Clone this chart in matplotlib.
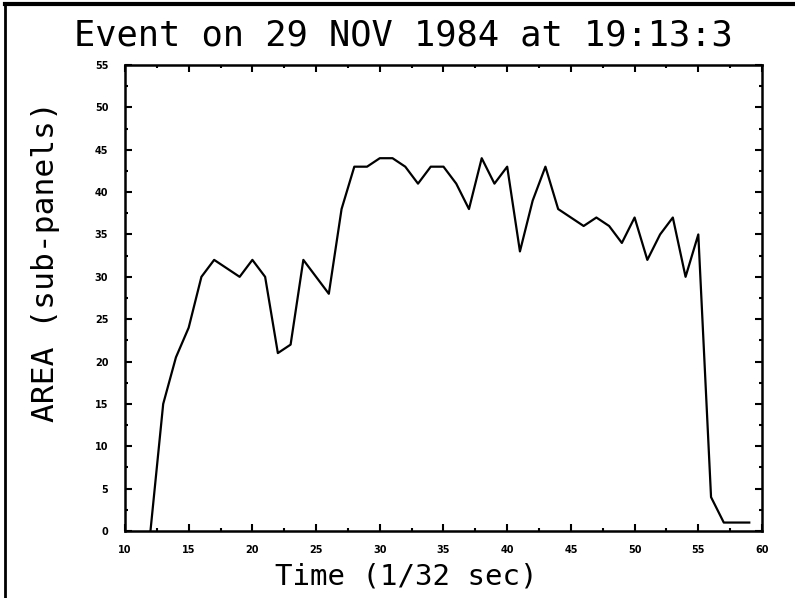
import numpy as np
import matplotlib.pyplot as plt
from matplotlib.ticker import MultipleLocator
from matplotlib.lines import Line2D

# Time samples (1/32 sec) and area in sub-panels
time = list(range(12, 60))
area = [0, 15, 20.5, 24, 30, 32, 31, 30, 32, 30,
        21, 22, 32, 30, 28, 38, 43, 43, 44, 44,
        43, 41, 43, 43, 41, 38, 44, 41, 43, 33,
        39, 43, 38, 37, 36, 37, 36, 34, 37, 32,
        35, 37, 30, 35, 4, 1, 1, 1]

title = "Event on 29 NOV 1984 at 19:13:3"
xlabel = "Time (1/32 sec)"
ylabel = "AREA (sub-panels)"

fig = plt.figure(figsize=(7.95, 5.98), dpi=100)
ax = fig.add_axes([0.1572, 0.1120, 0.8013, 0.7793])

ax.plot(time, area, color='black', linewidth=1.6)

ax.set_xlim(10, 60)
ax.set_ylim(0, 55)
ax.xaxis.set_major_locator(MultipleLocator(5))
ax.yaxis.set_major_locator(MultipleLocator(5))
ax.xaxis.set_minor_locator(MultipleLocator(2.5))
ax.yaxis.set_minor_locator(MultipleLocator(2.5))
ax.tick_params(which='both', direction='in', top=True, right=True,
               width=1.5, color='black')
ax.tick_params(which='major', length=5, labelsize=7, pad=12)
ax.tick_params(axis='x', which='major', pad=10)
ax.tick_params(which='minor', length=2.5)
for lab in ax.get_xticklabels() + ax.get_yticklabels():
    lab.set_fontweight('bold')
for sp in ax.spines.values():
    sp.set_linewidth(1.8)

mono = 'DejaVu Sans Mono'
fig.text(0.508, 0.94, title, ha='center', va='center',
         fontsize=25.5, family=mono)
fig.text(0.511, 0.036, xlabel, ha='center', va='center',
         fontsize=21, family=mono)
fig.text(0.057, 0.562, ylabel, ha='center', va='center', rotation=90,
         fontsize=22.5, family=mono)

# frame lines at the top and left edge of the page
fig.add_artist(Line2D([0.006, 0.006], [0, 0.995], transform=fig.transFigure,
                      color='black', linewidth=2))
fig.add_artist(Line2D([0.006, 1.0], [0.993, 0.993], transform=fig.transFigure,
                      color='black', linewidth=3))

fig.savefig('out.png', dpi=100)
